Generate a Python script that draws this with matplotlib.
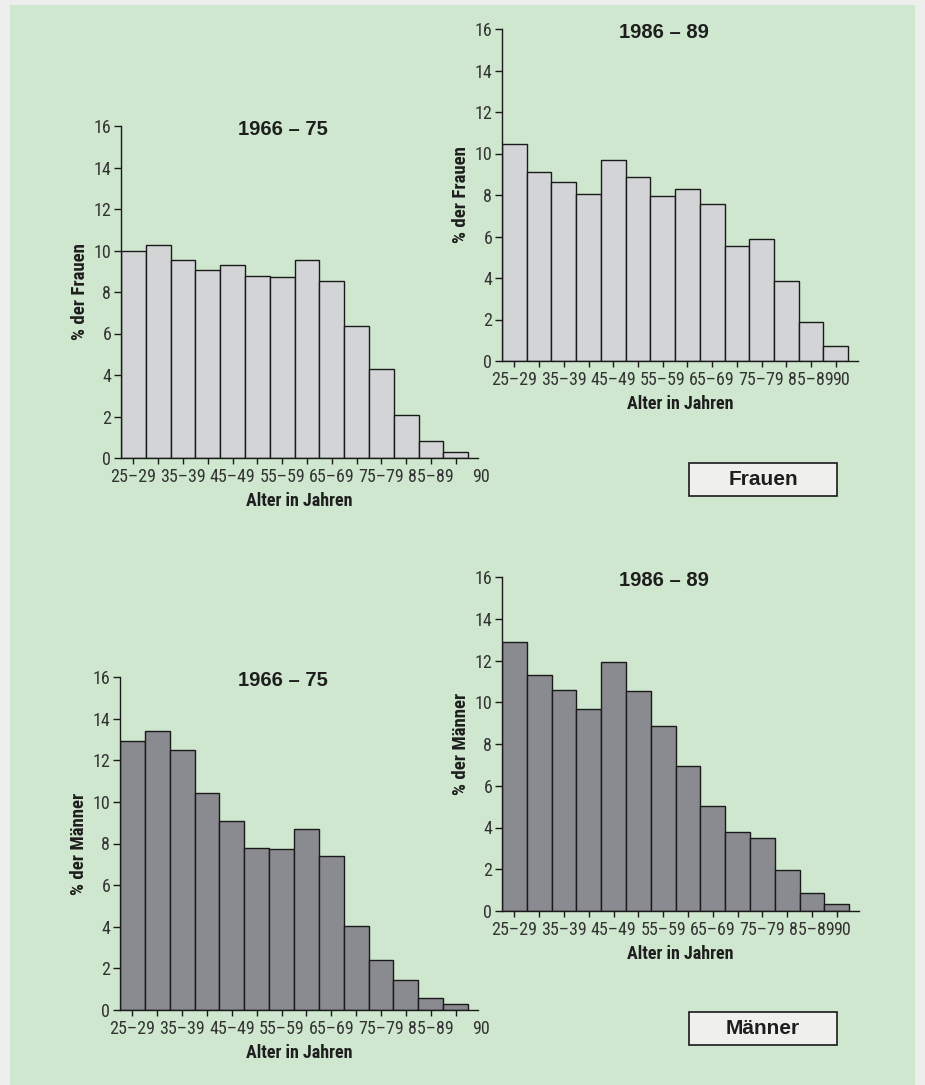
import numpy as np
import matplotlib.pyplot as plt
from matplotlib.patches import Rectangle
from matplotlib.transforms import offset_copy

NARROW = ['Roboto Condensed', 'Archivo Narrow', 'Liberation Sans Narrow', 'Liberation Sans', 'DejaVu Sans']
WIDE = ['Liberation Sans', 'DejaVu Sans']
plt.rcParams['font.family'] = NARROW

# Altersgruppen (14 Klassen, 25-29 ... 90+)
age_groups = ['25–29', '30–34', '35–39', '40–44', '45–49', '50–54', '55–59',
              '60–64', '65–69', '70–74', '75–79', '80–84', '85–89', '90']
tick_labels = ['25–29', '', '35–39', '', '45–49', '', '55–59', '',
               '65–69', '', '75–79', '', '85–89', '']
last_label = '90'

frauen_1966 = [10.0, 10.25, 9.55, 9.08, 9.29, 8.75, 8.72, 9.52, 8.51, 6.34, 4.29, 2.09, 0.83, 0.29]
frauen_1986 = [10.48, 9.13, 8.65, 8.05, 9.71, 8.89, 7.94, 8.31, 7.56, 5.53, 5.88, 3.86, 1.88, 0.74]
maenner_1966 = [12.93, 13.42, 12.50, 10.42, 9.10, 7.76, 7.73, 8.69, 7.42, 4.05, 2.42, 1.44, 0.56, 0.27]
maenner_1986 = [12.90, 11.32, 10.61, 9.67, 11.95, 10.56, 8.88, 6.94, 5.01, 3.78, 3.48, 1.96, 0.85, 0.34]

W, H = 925, 1085
BG = '#cfe7cf'
LIGHT = '#d3d4d6'
DARK = '#8a8b90'
TXT = '#1e1e1e'
TICKSIZE = 13

fig = plt.figure(figsize=(W / 100, H / 100), dpi=100)
fig.patch.set_facecolor('#eeeeec')
# gruener Hintergrund
fig.patches.append(Rectangle((10 / W, 0), (915 - 10) / W, (H - 5) / H,
                             transform=fig.transFigure, facecolor=BG, edgecolor='none', zorder=-5))


def px_axes(left, right, top, bottom):
    return fig.add_axes([left / W, (H - bottom) / H, (right - left) / W, (bottom - top) / H])


def panel(ax, values, color, title, ylabel, shift90):
    x = np.arange(len(values))
    ax.bar(x, values, width=1.0, align='edge', color=color, edgecolor='#1a1a1a', linewidth=1.0)
    ax.set_facecolor('none')
    ax.set_xlim(0, len(values) + 0.4)
    ax.set_ylim(0, 16)
    ax.set_yticks(range(0, 17, 2))
    ax.set_xticks(x + 0.5)
    ax.set_xticklabels(tick_labels)
    for s in ['top', 'right']:
        ax.spines[s].set_visible(False)
    for s in ['left', 'bottom']:
        ax.spines[s].set_color('#1a1a1a')
        ax.spines[s].set_linewidth(1.0)
    ax.tick_params(axis='y', length=5, width=1, pad=2, labelsize=TICKSIZE, colors='#1a1a1a', labelcolor='#333333')
    ax.tick_params(axis='x', length=4.5, width=1, pad=3, labelsize=TICKSIZE, colors='#1a1a1a', labelcolor='#333333')
    # "90" etwas nach rechts versetzt
    ax.annotate(last_label, xy=(x[-1] + 0.5, 0), xycoords=('data', 'axes fraction'),
                xytext=(shift90, -(4.5 + 3) * 100 / 72), textcoords='offset pixels',
                ha='center', va='top', fontsize=TICKSIZE, color='#333333')
    tr = offset_copy(ax.transAxes, fig=fig, x=0, y=-3, units='dots')
    ax.text(0.455, 1.0, title, transform=tr, ha='center', va='center',
            fontsize=14.5, fontweight='bold', color=TXT, family=WIDE)
    ax.set_ylabel(ylabel, fontsize=13.5, fontweight='bold', color=TXT, labelpad=3)
    ax.set_xlabel('Alter in Jahren', fontsize=13, fontweight='bold', color=TXT, labelpad=4)


ax1 = px_axes(121, 478, 126, 458)
panel(ax1, frauen_1966, LIGHT, '1966 – 75', '% der Frauen', 25)
ax2 = px_axes(502, 858, 29, 361)
panel(ax2, frauen_1986, LIGHT, '1986 – 89', '% der Frauen', 5)
ax3 = px_axes(120, 478, 677, 1010)
panel(ax3, maenner_1966, DARK, '1966 – 75', '% der Männer', 25)
ax4 = px_axes(502, 859, 577, 911)
panel(ax4, maenner_1986, DARK, '1986 – 89', '% der Männer', 5)

# Beschriftungskaesten
for label, top in [('Frauen', 463), ('Männer', 1012)]:
    fig.patches.append(Rectangle((689 / W, (H - top - 33) / H), 148 / W, 33 / H,
                                 transform=fig.transFigure, facecolor='#efefee',
                                 edgecolor='#1a1a1a', linewidth=1.2, zorder=2))
    fig.text((689 + 74) / W, (H - top - 16.5) / H, label, ha='center', va='center',
             fontsize=15, fontweight='bold', color=TXT, family=WIDE, zorder=3)

fig.savefig('out.png', dpi=100, facecolor=fig.get_facecolor())
